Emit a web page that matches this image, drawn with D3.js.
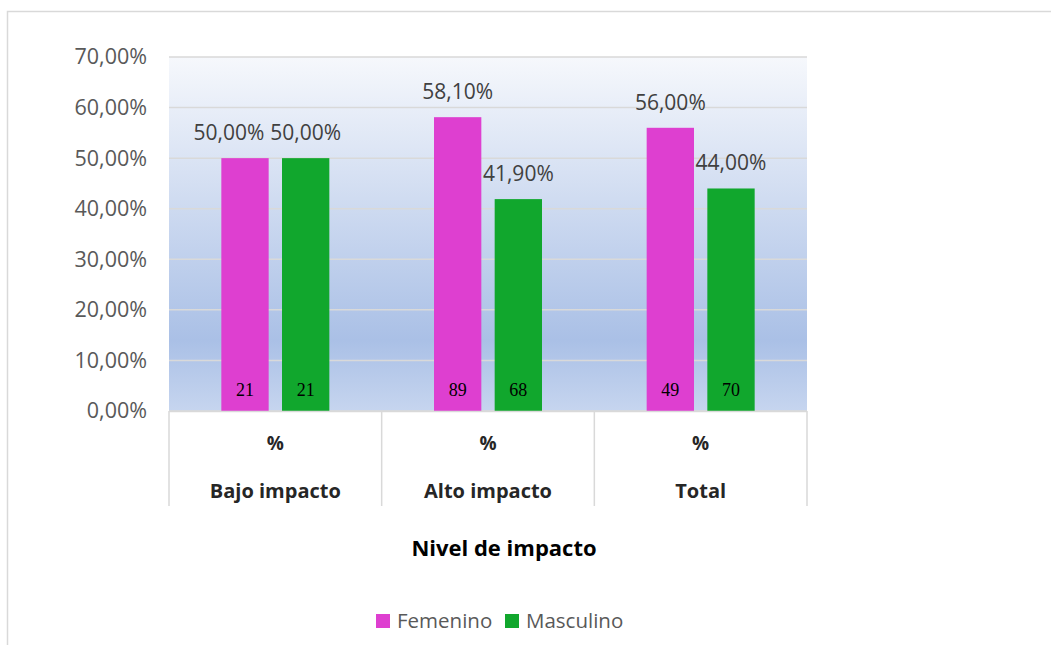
<!DOCTYPE html>
<html>
<head>
<meta charset="utf-8">
<script src="https://cdn.jsdelivr.net/npm/d3@7"></script>
<style>
  body { margin: 0; background: #fff; }
  text { font-family: "Open Sans", "Noto Sans", sans-serif; }
</style>
</head>
<body>
<div id="chart"></div>
<script>
// Data
var categories = ["Bajo impacto", "Alto impacto", "Total"];
var series = ["Femenino", "Masculino"];
var femenino = [50.0, 58.1, 56.0];
var masculino = [50.0, 41.9, 44.0];
var femeninoN = [21, 89, 49];
var masculinoN = [21, 68, 70];
var yTicks = [0, 10, 20, 30, 40, 50, 60, 70];

var colors = { "Femenino": "#de3fd0", "Masculino": "#11a72d" };

var svgWidth = 1051, svgHeight = 645;
var svg = d3.select("#chart").append("svg")
    .attr("width", svgWidth)
    .attr("height", svgHeight);

// outer frame (runs past the right and bottom edges)
svg.append("rect")
    .attr("x", 7.5).attr("y", 11.5)
    .attr("width", 1100).attr("height", 700)
    .attr("fill", "#fff")
    .attr("stroke", "#d9d9d9")
    .attr("stroke-width", 1.5);

var margin = { top: 57, left: 169, right: 244, bottom: 234 };
var width = svgWidth - margin.left - margin.right;
var height = svgHeight - margin.top - margin.bottom;

var chartGroup = svg.append("g")
    .attr("transform", `translate(${margin.left}, ${margin.top})`);

// background gradient
var grad = svg.append("defs").append("linearGradient")
    .attr("id", "bg").attr("x1", 0).attr("y1", 0).attr("x2", 0).attr("y2", 1);
grad.append("stop").attr("offset", "0%").attr("stop-color", "#f6f8fc");
grad.append("stop").attr("offset", "80%").attr("stop-color", "#aac0e6");
grad.append("stop").attr("offset", "100%").attr("stop-color", "#c6d5ef");

chartGroup.append("rect")
    .attr("width", width).attr("height", height)
    .attr("fill", "url(#bg)");

var xScale = d3.scaleBand().domain(categories).range([0, width]);
var xInner = d3.scaleBand().domain(series).range([0, 108]).paddingInner(0.22);
var yScale = d3.scaleLinear().domain([0, 70]).range([height, 0]);

// gridlines
chartGroup.append("g")
    .selectAll("line")
    .data(yTicks)
    .enter()
    .append("line")
    .attr("x1", 0).attr("x2", width)
    .attr("y1", d => yScale(d)).attr("y2", d => yScale(d))
    .attr("stroke", "#d9d9d9")
    .attr("stroke-width", 1.5);

// y axis labels
var leftAxis = d3.axisLeft(yScale)
    .tickValues(yTicks)
    .tickSize(0)
    .tickPadding(22)
    .tickFormat(d => d3.format(".2f")(d).replace(".", ",") + "%");
var yAxis = chartGroup.append("g").call(leftAxis);
yAxis.select(".domain").remove();
yAxis.selectAll("text")
    .attr("fill", "#595959")
    .style("font-size", "21.5px")
    .style("font-family", "'Open Sans', sans-serif");

// rows for bars
var rows = categories.map((c, i) => ({
    cat: c,
    vals: [
        { s: "Femenino", v: femenino[i], n: femeninoN[i] },
        { s: "Masculino", v: masculino[i], n: masculinoN[i] }
    ]
}));

var offset = (xScale.bandwidth() - 108) / 2;

var groups = chartGroup.selectAll(".cat")
    .data(rows)
    .enter()
    .append("g")
    .attr("transform", d => `translate(${xScale(d.cat) + offset}, 0)`);

groups.selectAll("rect")
    .data(d => d.vals)
    .enter()
    .append("rect")
    .attr("x", d => xInner(d.s))
    .attr("y", d => yScale(d.v))
    .attr("width", xInner.bandwidth())
    .attr("height", d => height - yScale(d.v))
    .attr("fill", d => colors[d.s]);

// value labels
groups.each(function() {
    var labels = d3.select(this).selectAll(".val")
        .data(d => d.vals)
        .enter()
        .append("text")
        .attr("class", "val")
        .attr("x", d => xInner(d.s) + xInner.bandwidth() / 2)
        .attr("y", d => yScale(d.v) - 18)
        .attr("text-anchor", "middle")
        .attr("fill", "#404040")
        .style("font-size", "21px")
        .text(d => d3.format(".2f")(d.v).replace(".", ",") + "%");
    // push the first label left if the pair collides (like Excel does)
    var nodes = labels.nodes();
    var a = nodes[0].getBBox(), b = nodes[1].getBBox();
    var overlapY = a.y < b.y + b.height && b.y < a.y + a.height;
    if (overlapY && a.x + a.width + 6 > b.x) {
        var shift = a.x + a.width + 6 - b.x;
        d3.select(nodes[0]).attr("x", +d3.select(nodes[0]).attr("x") - shift);
    }
});

// counts inside bars
groups.selectAll(".cnt")
    .data(d => d.vals)
    .enter()
    .append("text")
    .attr("x", d => xInner(d.s) + xInner.bandwidth() / 2)
    .attr("y", height - 15)
    .attr("text-anchor", "middle")
    .attr("fill", "#000")
    .style("font-family", "'Liberation Serif', 'DejaVu Serif', serif")
    .style("font-size", "18px")
    .text(d => d.n);

// category axis table
var axisG = chartGroup.append("g").attr("transform", `translate(0, ${height})`);
axisG.selectAll("line")
    .data(categories.concat(["end"]))
    .enter()
    .append("line")
    .attr("x1", (d, i) => i * xScale.step())
    .attr("x2", (d, i) => i * xScale.step())
    .attr("y1", 0).attr("y2", 95)
    .attr("stroke", "#d9d9d9")
    .attr("stroke-width", 1.5);
axisG.append("line")
    .attr("x1", 0).attr("x2", width)
    .attr("y1", 0.5).attr("y2", 0.5)
    .attr("stroke", "#d9d9d9").attr("stroke-width", 1.5);

axisG.selectAll(".pct")
    .data(categories)
    .enter()
    .append("text")
    .attr("x", d => xScale(d) + xScale.bandwidth() / 2)
    .attr("y", 39)
    .attr("text-anchor", "middle")
    .attr("fill", "#262626")
    .style("font-weight", "bold")
    .style("font-size", "19px")
    .text("%");

axisG.selectAll(".catlab")
    .data(categories)
    .enter()
    .append("text")
    .attr("x", d => xScale(d) + xScale.bandwidth() / 2)
    .attr("y", 87)
    .attr("text-anchor", "middle")
    .attr("fill", "#262626")
    .style("font-weight", "bold")
    .style("font-size", "20px")
    .text(d => d);

// axis title
chartGroup.append("text")
    .attr("x", width / 2 + 16)
    .attr("y", height + 145)
    .attr("text-anchor", "middle")
    .attr("fill", "#000")
    .style("font-weight", "bold")
    .style("font-size", "22px")
    .text("Nivel de impacto");

// legend
var legend = svg.append("g").attr("transform", "translate(376, 614)");
var legX = [0, 129];
series.forEach((s, i) => {
    var g = legend.append("g").attr("transform", `translate(${legX[i]}, 0)`);
    g.append("rect").attr("width", 14).attr("height", 14).attr("fill", colors[s]);
    g.append("text")
        .attr("x", 21).attr("y", 14)
        .attr("fill", "#595959")
        .style("font-size", "20.5px")
        .text(s);
});
</script>
</body>
</html>
